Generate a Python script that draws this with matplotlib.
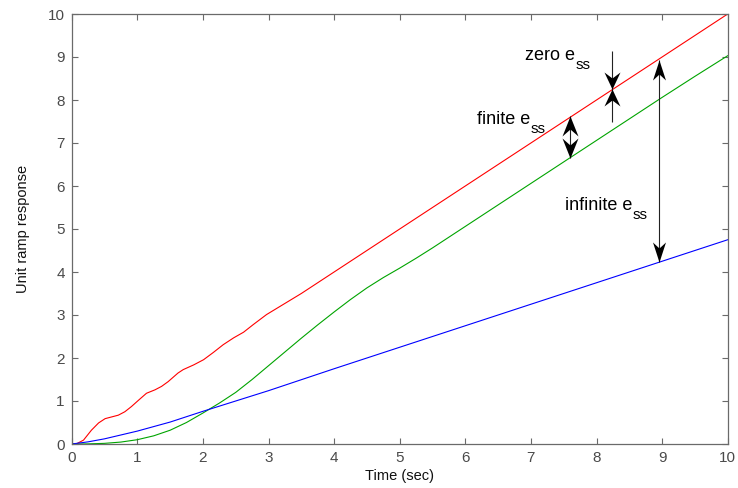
import matplotlib
matplotlib.use("Agg")
import matplotlib.pyplot as plt
from matplotlib.path import Path

plt.rcParams['font.family'] = ['Liberation Sans', 'DejaVu Sans']

# ---- data ----
t_red = [0, 0.08, 0.18, 0.30, 0.41, 0.51, 0.61, 0.71, 0.81, 0.91, 1.02, 1.14,
         1.27, 1.37, 1.47, 1.62, 1.70, 1.86, 2.01, 2.16, 2.31, 2.47, 2.62, 2.77,
         2.97, 3.5, 4, 5, 6, 7, 8, 9, 10]
y_red = [0, 0.01, 0.09, 0.32, 0.49, 0.59, 0.63, 0.67, 0.75, 0.87, 1.02, 1.18,
         1.26, 1.34, 1.45, 1.65, 1.73, 1.84, 1.96, 2.13, 2.31, 2.47, 2.60, 2.78,
         3.01, 3.5, 4.0, 5.0, 6.0, 7.0, 8.0, 9.0, 10.0]

t_green = [0, 0.25, 0.5, 0.75, 1.0, 1.25, 1.5, 1.75, 2.0, 2.25, 2.5, 2.75, 3.0,
           3.25, 3.5, 3.75, 4.0, 4.25, 4.5, 4.75, 5.0, 5.25, 5.5, 6.0, 6.5,
           7.0, 7.5, 8.0, 8.5, 9.0, 9.5, 10]
y_green = [0, 0.003, 0.015, 0.045, 0.10, 0.19, 0.32, 0.50, 0.72, 0.95, 1.20,
           1.50, 1.82, 2.14, 2.46, 2.77, 3.07, 3.36, 3.63, 3.87, 4.09, 4.32,
           4.56, 5.06, 5.56, 6.06, 6.56, 7.06, 7.56, 8.06, 8.55, 9.03]

t_blue = [0, 0.25, 0.5, 0.75, 1.0, 1.5, 2.0, 2.5, 3.0, 4, 5, 6, 7, 8, 9, 10]
y_blue = [0, 0.05, 0.12, 0.21, 0.30, 0.51, 0.76, 1.00, 1.24, 1.75, 2.25, 2.75,
          3.25, 3.75, 4.25, 4.75]

x_ticks = list(range(0, 11))
y_ticks = list(range(0, 11))

# annotation anchors (data units)
zero_arrow_x, zero_top, zero_mid, zero_bot = 8.23, 9.15, 8.25, 7.48
finite_arrow_x, finite_top, finite_bot = 7.60, 7.62, 6.64
inf_arrow_x, inf_top, inf_bot = 8.95, 8.92, 4.23
labels = [("zero e", 6.91, 8.93), ("finite e", 6.18, 7.44), ("infinite e", 7.52, 5.44)]

fig = plt.figure(figsize=(7.38, 4.88), dpi=100)
ax = fig.add_axes([71.7 / 738, 44 / 488, 656 / 738, 430 / 488])

ax.plot(t_red, y_red, color='#ff0000', lw=0.8)
ax.plot(t_green, y_green, color='#00a400', lw=0.8)
ax.plot(t_blue, y_blue, color='#0000ff', lw=0.8)

ax.set_xlim(0, 10)
ax.set_ylim(0, 10)
ax.set_xticks(x_ticks)
ax.set_yticks(y_ticks)
axis_col = '#6a6a6a'
for s in ax.spines.values():
    s.set_color(axis_col)
    s.set_linewidth(0.9)
ax.tick_params(direction='in', length=4.5, width=0.8, color=axis_col,
               labelcolor='#4a4a4a', labelsize=11, top=True, right=True, pad=5)
ax.set_xlabel('Time (sec)', fontsize=10.5, color='#111111', labelpad=3)
ax.set_ylabel('Unit ramp response', fontsize=10.5, color='#111111', labelpad=13)


# concave (MATLAB-like) arrow heads drawn as markers; tip at the anchor point
def head_marker(length, width, notch, up=True):
    s = 1 if up else -1
    verts = [(0, 0), (-width / 2, -s * length), (0, -s * notch),
             (width / 2, -s * length), (0, 0)]
    codes = [Path.MOVETO, Path.LINETO, Path.LINETO, Path.LINETO, Path.CLOSEPOLY]
    return Path(verts, codes)


def head(x, y, up, length_px, width_px, notch_px):
    m = head_marker(length_px, width_px, notch_px, up)
    ms = 2 * length_px * 72 / 100
    ax.plot([x], [y], marker=m, ms=ms, color='black', mew=0, ls='none')


def shaft(x, y0, y1):
    ax.plot([x, x], [y0, y1], color='#222222', lw=0.8, solid_capstyle='butt')


shaft(zero_arrow_x, zero_bot, zero_top)
head(zero_arrow_x, zero_mid, False, 17, 16, 11)
head(zero_arrow_x, zero_mid, True, 17, 16, 11)

shaft(finite_arrow_x, finite_bot, finite_top)
head(finite_arrow_x, finite_top, True, 20, 16, 13)
head(finite_arrow_x, finite_bot, False, 20, 16, 13)

shaft(inf_arrow_x, inf_bot, inf_top)
head(inf_arrow_x, inf_top, True, 20, 13, 14)
head(inf_arrow_x, inf_bot, False, 20, 13, 14)

for txt, x, y in labels:
    t1 = ax.text(x, y, txt, fontsize=13, color='black', ha='left', va='baseline')
    ax.annotate('ss', xy=(1, 0), xycoords=t1, xytext=(0.3, -3.5),
                textcoords='offset points', fontsize=11, color='black',
                ha='left', va='baseline')

fig.savefig('out.png', dpi=100)
